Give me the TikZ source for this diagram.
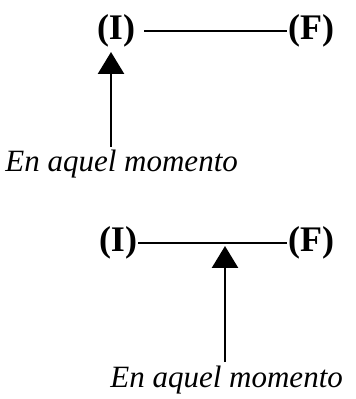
\documentclass[tikz,border=0pt]{standalone}
\usepackage{fontspec}
\setmainfont{Liberation Serif}
\usetikzlibrary{arrows.meta,positioning,calc}

\begin{document}
\begin{tikzpicture}[x=0.5pt, y=-0.5pt,
  extremo/.style={inner sep=0.5pt, font=\fontsize{18}{21}\selectfont\bfseries},
  momento/.style={inner sep=0pt, font=\fontsize{15.5}{19}\selectfont\itshape},
  tramo/.style={line width=0.7pt},
  flecha/.style={line width=1.3pt, -{Triangle[width=13pt, length=11pt]}}]
\useasboundingbox (0,0) rectangle (355,399);
% primer esquema
\node[extremo] (i1) at (116,31) {(I)};
\node[extremo] (f1) at (311,31) {(F)};
\draw[tramo] ([xshift=4pt]i1.east) -- (f1.west);
\node[momento, anchor=base west] (m1) at (5,172) {En aquel momento};
\coordinate (t1) at (111,147);
\coordinate (p1) at (111,52);
\draw[flecha] (t1) -- (p1);
% segundo esquema
\node[extremo] (i2) at (118,243) {(I)};
\node[extremo] (f2) at (311,243) {(F)};
\draw[tramo] (i2.east) -- (f2.west);
\node[momento, anchor=base west] (m2) at (110,387) {En aquel momento};
\coordinate (t2) at (225,362);
\coordinate (p2) at (225,246);
\draw[flecha] (t2) -- (p2);
\end{tikzpicture}
\end{document}
